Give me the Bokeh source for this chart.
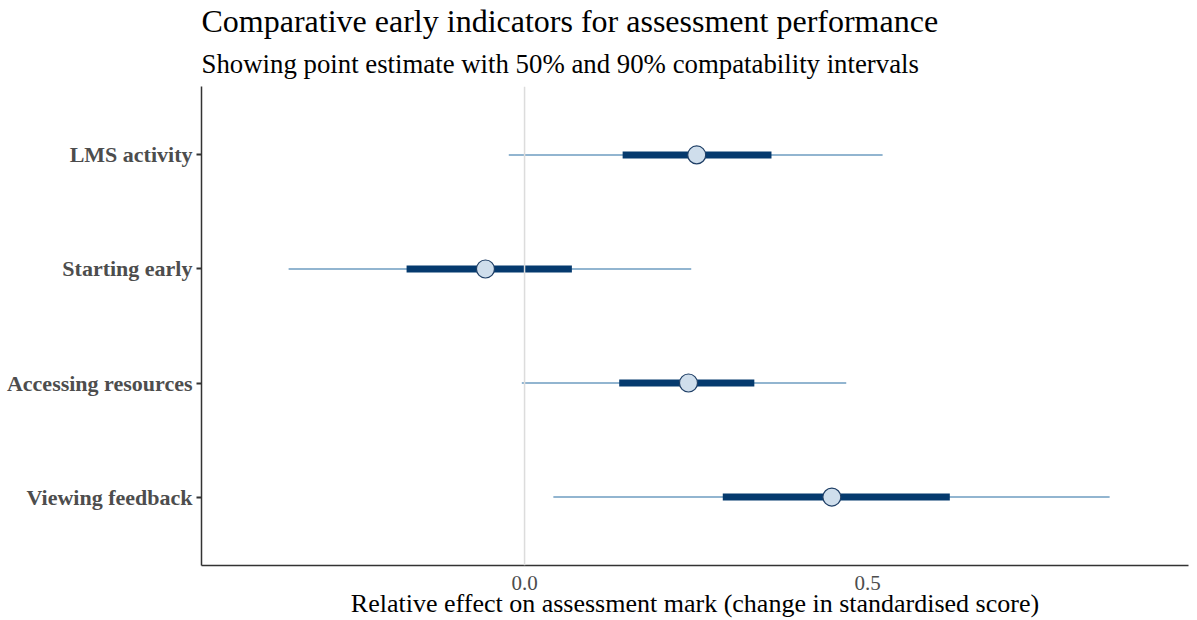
from bokeh.plotting import figure
from bokeh.models import Range1d, FixedTicker, Title, ColumnDataSource, Span
from bokeh.embed import file_html
from bokeh.resources import INLINE

categories = ["LMS activity", "Starting early", "Accessing resources", "Viewing feedback"]
ypos = [4, 3, 2, 1]
point_est = [0.251, -0.057, 0.239, 0.448]
lo90 = [-0.023, -0.344, -0.004, 0.042]
hi90 = [0.522, 0.243, 0.469, 0.853]
lo50 = [0.143, -0.172, 0.138, 0.289]
hi50 = [0.360, 0.069, 0.335, 0.620]
x_ticks = [0.0, 0.5]
x_tick_labels = ["0.0", "0.5"]

src = ColumnDataSource(dict(y=ypos, est=point_est, lo90=lo90, hi90=hi90, lo50=lo50, hi50=hi50))

FONT = "Liberation Serif"

p = figure(width=1189, height=620, output_backend="svg", toolbar_location=None,
           x_range=Range1d(-0.471, 0.968), y_range=Range1d(0.4, 4.6),
           title=None, min_border_left=201, min_border_right=1, min_border_top=0,
           min_border_bottom=0)

p.add_layout(Title(text="Showing point estimate with 50% and 90% compatability intervals",
                   text_font=FONT, text_font_size="26.8px", text_font_style="normal",
                   text_color="#000000", align="left", standoff=16), "above")
p.add_layout(Title(text="Comparative early indicators for assessment performance",
                   text_font=FONT, text_font_size="32px", text_font_style="normal",
                   text_color="#000000", align="left", standoff=0), "above")

p.outline_line_color = None
p.xgrid.grid_line_color = None
p.ygrid.grid_line_color = None

p.add_layout(Span(location=0, dimension="height", line_color="#dcdcdc", line_width=1.5))

p.segment(x0="lo90", x1="hi90", y0="y", y1="y", source=src, line_color="#6e9cc0", line_width=1.6)
p.segment(x0="lo50", x1="hi50", y0="y", y1="y", source=src, line_color="#053a6e", line_width=7)
p.scatter(x="est", y="y", source=src, size=18, fill_color="#cfdeec", line_color="#1f3f66", line_width=1.2)

p.xaxis.ticker = FixedTicker(ticks=x_ticks)
p.xaxis.major_label_overrides = {t: l for t, l in zip(x_ticks, x_tick_labels)}
p.xaxis.minor_tick_line_color = None
p.xaxis.major_tick_out = 0
p.xaxis.major_tick_in = 0
p.xaxis.axis_line_color = "#333333"
p.xaxis.axis_line_width = 1.5
p.xaxis.major_label_text_font = FONT
p.xaxis.major_label_text_font_size = "21px"
p.xaxis.major_label_text_color = "#4d4d4d"
p.xaxis.major_label_standoff = 10
p.xaxis.axis_label = "Relative effect on assessment mark (change in standardised score)"
p.xaxis.axis_label_text_font = FONT
p.xaxis.axis_label_text_font_size = "26px"
p.xaxis.axis_label_text_font_style = "normal"
p.xaxis.axis_label_text_color = "#000000"
p.xaxis.axis_label_standoff = -4

p.yaxis.ticker = FixedTicker(ticks=ypos)
p.yaxis.major_label_overrides = {y: c for y, c in zip(ypos, categories)}
p.yaxis.minor_tick_line_color = None
p.yaxis.major_tick_out = 5
p.yaxis.major_tick_in = 0
p.yaxis.major_tick_line_width = 2
p.yaxis.major_tick_line_color = "#333333"
p.yaxis.axis_line_color = "#333333"
p.yaxis.axis_line_width = 1.5
p.yaxis.major_label_text_font = FONT
p.yaxis.major_label_text_font_size = "22px"
p.yaxis.major_label_text_font_style = "bold"
p.yaxis.major_label_text_color = "#4d4d4d"
p.yaxis.major_label_standoff = 4

open("out.html", "w").write(file_html(p, INLINE))
